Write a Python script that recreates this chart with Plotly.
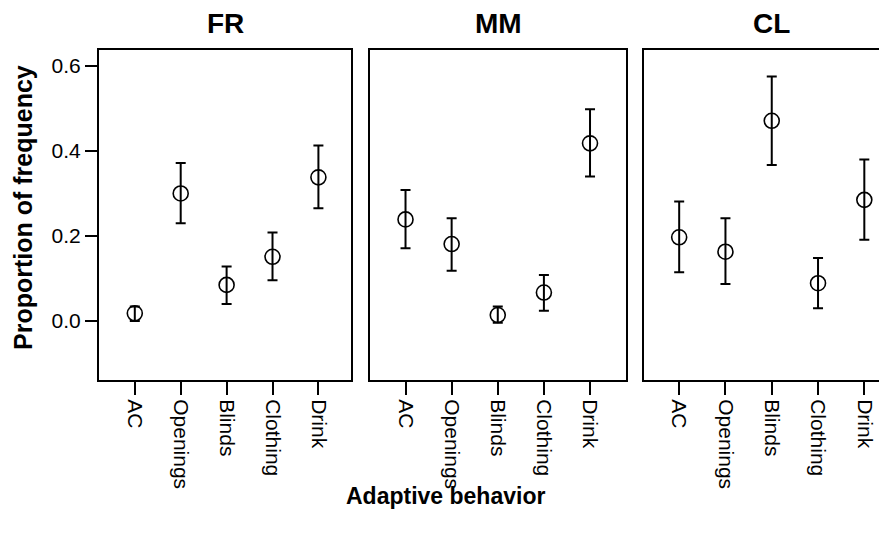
import plotly.graph_objects as go

categories = ["AC", "Openings", "Blinds", "Clothing", "Drink"]
panels = ["FR", "MM", "CL"]

fr_mean = [0.018, 0.300, 0.085, 0.151, 0.338]
fr_upper = [0.034, 0.372, 0.128, 0.208, 0.413]
fr_lower = [0.000, 0.230, 0.040, 0.096, 0.265]

mm_mean = [0.239, 0.181, 0.014, 0.067, 0.418]
mm_upper = [0.308, 0.242, 0.034, 0.108, 0.498]
mm_lower = [0.171, 0.118, -0.004, 0.024, 0.340]

cl_mean = [0.197, 0.163, 0.471, 0.089, 0.285]
cl_upper = [0.281, 0.242, 0.575, 0.148, 0.380]
cl_lower = [0.115, 0.087, 0.367, 0.030, 0.191]

y_ticks = [0.0, 0.2, 0.4, 0.6]
y_tick_labels = ["0.0", "0.2", "0.4", "0.6"]

# page body has an 8px margin; the figure is sized/positioned to compensate
OFF = 8
W, H = 887 - OFF, 533 - OFF
FONT = "Liberation Sans, Arial, sans-serif"


def px(xp):
    return (xp - OFF) / W


def py(yp):
    return 1 - (yp - OFF) / H


data_sets = [(fr_mean, fr_upper, fr_lower), (mm_mean, mm_upper, mm_lower), (cl_mean, cl_upper, cl_lower)]
x_domains_px = [(99, 351), (370, 626), (644, 887)]
title_centers_px = [225, 498, 771]
x_ranges = [[-0.78, 4.71], [-0.77, 4.78], [-0.76, 4.49]]
y_top_px, y_bot_px = 50, 380

fig = go.Figure()
for i, (mean, up, lo) in enumerate(data_sets):
    sfx = "" if i == 0 else str(i + 1)
    fig.add_trace(go.Scatter(
        x=categories, y=mean, mode="markers",
        xaxis="x" + sfx, yaxis="y" + sfx,
        marker=dict(symbol="circle-open", size=15, color="black", line=dict(width=1.6, color="black")),
        error_y=dict(type="data", symmetric=False,
                     array=[u - m for u, m in zip(up, mean)],
                     arrayminus=[m - l for m, l in zip(mean, lo)],
                     color="black", thickness=2, width=5),
        showlegend=False, hoverinfo="skip",
    ))
    d0, d1 = x_domains_px[i]
    xa = dict(domain=[px(d0), min(1.0, px(d1))], type="category", range=x_ranges[i],
              showline=True, linecolor="black", linewidth=2, mirror=True,
              ticks="outside", ticklen=13, tickwidth=2, tickcolor="black",
              tickangle=90, tickfont=dict(family=FONT, size=21, color="black"),
              showgrid=False, zeroline=False, anchor="y" + sfx, fixedrange=True,
              automargin=False)
    ya = dict(domain=[py(y_bot_px), py(y_top_px)], range=[-0.1388, 0.6376],
              showline=True, linecolor="black", linewidth=2, mirror=(i < 2),
              showgrid=False, zeroline=False, anchor="x" + sfx, fixedrange=True,
              automargin=False, tickvals=y_ticks, ticktext=y_tick_labels)
    if i == 0:
        ya.update(ticks="outside", ticklen=12, tickwidth=2, tickcolor="black",
                  tickfont=dict(family=FONT, size=21, color="black"), showticklabels=True)
    else:
        ya.update(ticks="", showticklabels=False)
    fig.update_layout({"xaxis" + sfx: xa, "yaxis" + sfx: ya})
    fig.add_annotation(text="<b>%s</b>" % panels[i], xref="paper", yref="paper",
                       x=px(title_centers_px[i]), y=py(23),
                       showarrow=False, font=dict(family=FONT, size=28, color="black"),
                       xanchor="center", yanchor="middle")

fig.add_annotation(text="<b>Proportion of frequency</b>", xref="paper", yref="paper",
                   x=px(23), y=py(208), textangle=-90, showarrow=False,
                   font=dict(family=FONT, size=25, color="black"), xanchor="center", yanchor="middle")
fig.add_annotation(text="<b>Adaptive behavior</b>", xref="paper", yref="paper",
                   x=px(445), y=py(496), showarrow=False,
                   font=dict(family=FONT, size=23, color="black"), xanchor="center", yanchor="middle")

fig.update_layout(width=W, height=H, margin=dict(l=0, r=0, t=0, b=0),
                  paper_bgcolor="white", plot_bgcolor="white",
                  font=dict(family=FONT, color="black"))
fig.write_html("out.html", config={"displayModeBar": False})
